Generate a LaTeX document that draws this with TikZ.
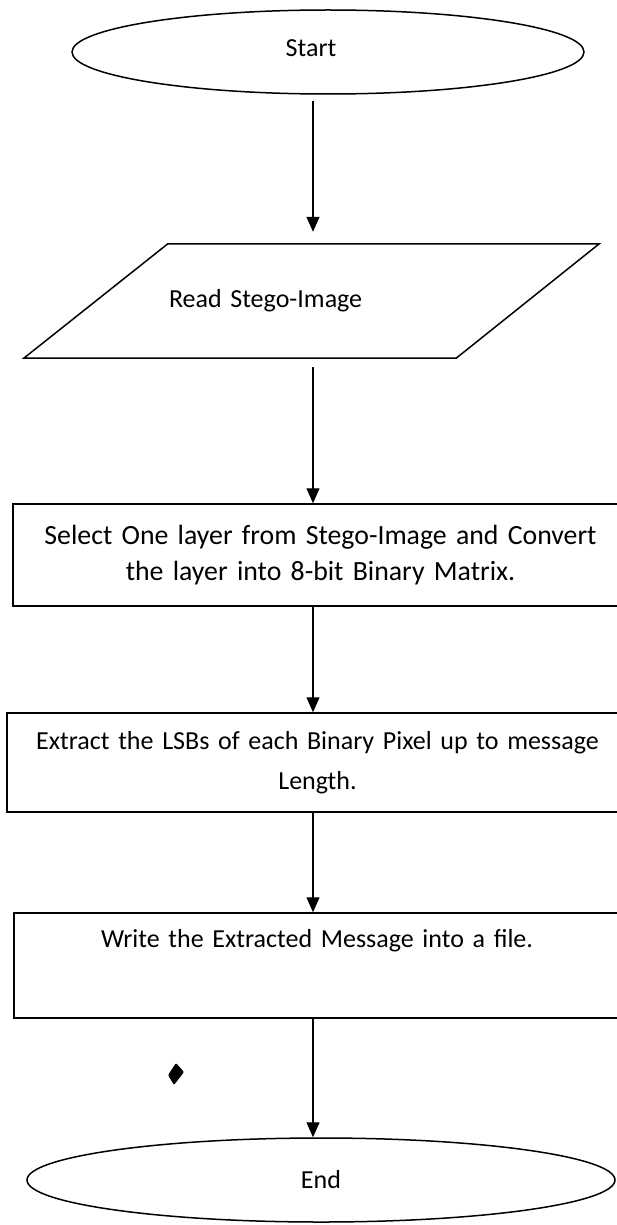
\documentclass[tikz,border=0pt]{standalone}
\usepackage{fontspec}
\setmainfont{Carlito}
\usetikzlibrary{shapes.geometric,arrows.meta}
\begin{document}
\begin{tikzpicture}[x=1pt,y=-1pt,
  every node/.style={font=\fontsize{26}{38}\selectfont},
  outline/.style={line width=1.5pt,line join=miter},
  arr/.style={line width=1.4pt,-{Triangle[width=13pt,length=15pt]}},
  terminal/.style={ellipse,draw,line width=1.5pt,inner sep=0pt,minimum height=84pt},
  procbox/.style={draw,line width=1.5pt,inner sep=0pt,align=center}]
\useasboundingbox (0,0) rectangle (616,1225);
\coordinate (axis) at (313,0);

% terminals
\node[terminal,minimum width=512pt,
      label={[xshift=-17pt,yshift=4pt]center:Start}] (start) at (328,52) {};
\node[terminal,minimum width=588pt] (end) at (321,1180) {End};

% input / output step (parallelogram)
\node[inner sep=0pt,minimum width=288pt,minimum height=114pt,
      text width=288pt,align=left] (read) at (312,301)
      {\hspace*{1pt}\raisebox{3pt}{Read Stego-Image}};
\draw[outline] (read.north west) -- ([xshift=143pt]read.north east)
  -- (read.south east) -- ([xshift=-144pt]read.south west) -- cycle;

% processing steps
\node[procbox,minimum width=615pt,minimum height=102pt,text width=600pt,
      font=\fontsize{27.8}{36}\selectfont] (sel) at (320.5,555)
  {\raisebox{6pt}{\begin{tabular}{@{}c@{}}Select One layer from Stego-Image and Convert\\
   the layer into 8-bit Binary Matrix.\end{tabular}}};
\node[procbox,minimum width=621pt,minimum height=99pt,text width=606pt] (ext) at (317.5,762.5)
  {Extract the LSBs of each Binary Pixel up to message\\[2pt] Length.};
\node[procbox,minimum width=606pt,minimum height=105pt,text width=590pt] (write) at (317,965.5)
  {\raisebox{4pt}{Write the Extracted Message into a file.}\\ \strut};

% flow
\draw[arr,shorten <=6pt,shorten >=12pt] (start.south -| axis) -- (read.north -| axis);
\draw[arr,shorten <=9pt] (read.south -| axis) -- (sel.north -| axis);
\draw[arr] (sel.south -| axis) -- (ext.north -| axis);
\draw[arr] (ext.south -| axis) -- (write.north -| axis);
\draw[arr] (write.south -| axis) -- (end.north -| axis);

% bullet mark left of the last connector
\fill[rounded corners=1pt] (176,1063) -- (184,1072) -- (174,1085) -- (168,1075) -- cycle;
\end{tikzpicture}
\end{document}
